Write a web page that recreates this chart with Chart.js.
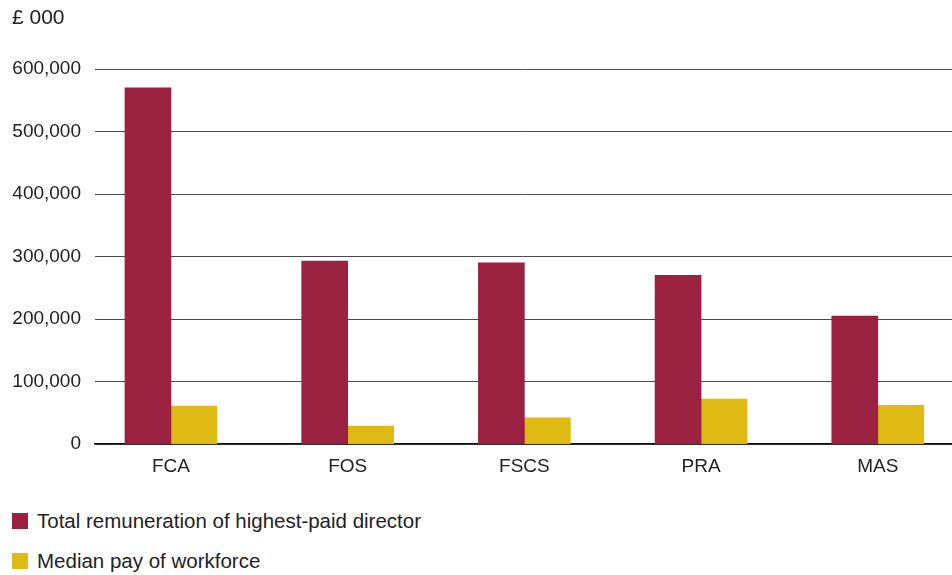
<!DOCTYPE html>
<html>
<head>
<meta charset="utf-8">
<script src="https://cdn.jsdelivr.net/npm/chart.js@4"></script>
<style>
  html, body { margin: 0; padding: 0; background: #fff; overflow: hidden; }
  #wrap { position: relative; width: 952px; height: 575px; }
  #box { position: absolute; left: 0; top: 0; width: 952px; height: 492px; }
  #legend { position: absolute; left: 12px; top: 508px; font: 20.5px "Liberation Sans", Arial, sans-serif; color: #222; }
  .item { display: flex; align-items: center; height: 26px; margin-bottom: 14px; }
  .sw { width: 16px; height: 16px; margin-right: 9px; }
</style>
</head>
<body>
<div id="wrap">
  <div id="box"><canvas id="c"></canvas></div>
  <div id="legend"></div>
</div>
<script>
const CATEGORIES = ['FCA', 'FOS', 'FSCS', 'PRA', 'MAS'];
const DIRECTOR = [570000, 293000, 290000, 270000, 205000];
const MEDIAN = [61000, 29000, 42000, 72000, 62000];
const SERIES_LABELS = ['Total remuneration of highest-paid director', 'Median pay of workforce'];
const Y_TICKS = [0, 100000, 200000, 300000, 400000, 500000, 600000];

const RED = '#9b2140';
const YELLOW = '#dfb914';
const FONT = '"Liberation Sans", Arial, sans-serif';
const TEXT = '#222';

const unitPlugin = {
  id: 'unit-title',
  afterDraw(chart) {
    const ctx = chart.ctx;
    ctx.save();
    ctx.font = '21px ' + FONT;
    ctx.fillStyle = TEXT;
    ctx.textBaseline = 'middle';
    ctx.textAlign = 'left';
    ctx.fillText('£ 000', 12, 18);
    ctx.restore();
  },
};

const toPoints = vals => vals.map((v, i) => ({ x: i, y: v }));

const chart = new Chart(document.getElementById('c'), {
  type: 'bar',
  data: {
    datasets: [
      { label: SERIES_LABELS[0], data: toPoints(DIRECTOR), backgroundColor: RED, barThickness: 46 },
      { label: SERIES_LABELS[1], data: toPoints(MEDIAN), backgroundColor: YELLOW, barThickness: 46 },
    ],
  },
  options: {
    responsive: true,
    maintainAspectRatio: false,
    animation: false,
    layout: { padding: { top: 69, right: 0, left: 0, bottom: 3 } },
    scales: {
      x: {
        type: 'linear',
        offset: false,
        min: -0.43,
        max: 4.42,
        afterBuildTicks: s => { s.ticks = CATEGORIES.map((_, i) => ({ value: i })); },
        grid: { display: false, drawTicks: false, offset: false },
        border: { display: true, color: '#111', width: 1.5 },
        ticks: {
          padding: 11,
          color: TEXT,
          font: { family: FONT, size: 19 },
          callback: v => CATEGORIES[v] ?? '',
        },
      },
      y: {
        min: 0,
        max: 600000,
        afterBuildTicks: s => { s.ticks = Y_TICKS.map(v => ({ value: v })); },
        afterFit: s => { s.width = 95; },
        grid: { color: '#4a4a4a', lineWidth: 1, drawTicks: false },
        border: { display: false },
        ticks: {
          padding: 14,
          color: TEXT,
          font: { family: FONT, size: 19 },
          callback: v => v.toLocaleString('en-GB'),
        },
      },
    },
    plugins: {
      legend: { display: false },
      tooltip: { enabled: false },
    },
  },
  plugins: [unitPlugin],
});

const legend = document.getElementById('legend');
chart.data.datasets.forEach(ds => {
  const row = document.createElement('div');
  row.className = 'item';
  row.innerHTML = `<span class="sw" style="background:${ds.backgroundColor}"></span><span>${ds.label}</span>`;
  legend.appendChild(row);
});
</script>
</body>
</html>
